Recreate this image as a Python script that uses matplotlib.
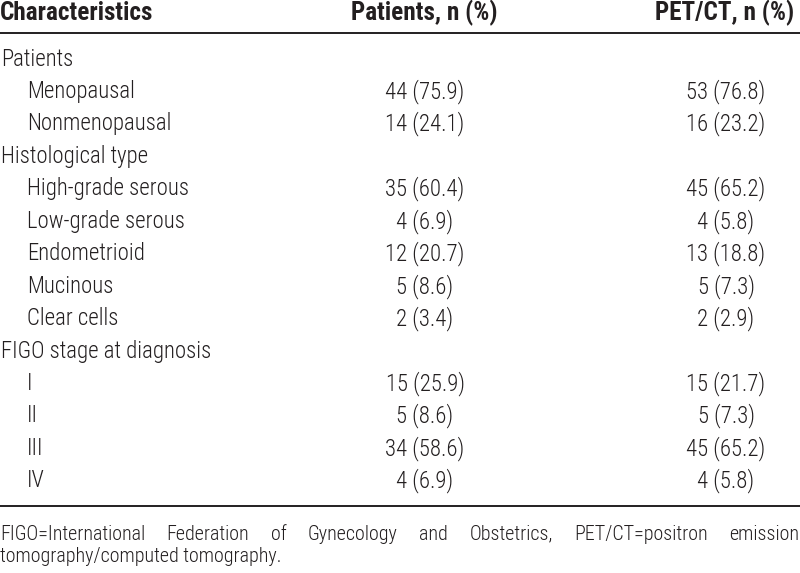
import matplotlib
matplotlib.use("Agg")
import matplotlib.pyplot as plt
from matplotlib import font_manager as fm

headers = ["Characteristics", "Patients, n (%)", "PET/CT, n (%)"]
row_labels = ["Patients", "Menopausal", "Nonmenopausal", "Histological type",
              "High-grade serous", "Low-grade serous", "Endometrioid", "Mucinous",
              "Clear cells", "FIGO stage at diagnosis", "I", "II", "III", "IV"]
indent = [False, True, True, False, True, True, True, True, True, False, True, True, True, True]
patients = ["", "44 (75.9)", "14 (24.1)", "", "35 (60.4)", "4 (6.9)", "12 (20.7)",
            "5 (8.6)", "2 (3.4)", "", "15 (25.9)", "5 (8.6)", "34 (58.6)", "4 (6.9)"]
petct = ["", "53 (76.8)", "16 (23.2)", "", "45 (65.2)", "4 (5.8)", "13 (18.8)",
         "5 (7.3)", "2 (2.9)", "", "15 (21.7)", "5 (7.3)", "45 (65.2)", "4 (5.8)"]
footnote_line1 = "FIGO=International Federation of Gynecology and Obstetrics, PET/CT=positron emission"
footnote_line2 = "tomography/computed tomography."

# choose a condensed sans family if available
fonts = fm.fontManager.ttflist
names = {f.name for f in fonts}
prefs = ["Liberation Sans Narrow", "Arial Narrow", "Nimbus Sans Narrow", "Roboto Condensed",
         "Archivo Narrow", "PT Sans Narrow", "IBM Plex Sans Condensed", "Fira Sans Condensed",
         "Encode Sans Condensed", "Open Sans Condensed", "Barlow Semi Condensed", "Asap Condensed",
         "Pragati Narrow", "DejaVu Sans"]
fam = next(p for p in prefs if p in names)
weights = {f.weight for f in fonts if f.name == fam and f.style == "normal"}
body_w = 300 if 300 in weights else "normal"

W, H = 800, 573
fig = plt.figure(figsize=(W / 100, H / 100), dpi=100)
ax = fig.add_axes([0, 0, 1, 1])
ax.set_xlim(0, W)
ax.set_ylim(H, 0)
ax.axis("off")
fig.canvas.draw()
r = fig.canvas.get_renderer()


def calib(sample, target_px, weight="normal"):
    t = ax.text(0, 0, sample, fontsize=10, family=fam, fontweight=weight)
    w = t.get_window_extent(r).width
    t.remove()
    return 10 * target_px / w


fs = calib("Histological type", 147, body_w)
fsb = calib("Characteristics", 153, "bold")
fsf = calib("Gynecology", 90, body_w)
col = "#231f20"

# header
hy = 13
ax.text(0, hy, headers[0], fontsize=fsb, fontweight="bold", family=fam, va="center", ha="left", color=col)
ax.text(424, hy, headers[1], fontsize=fsb, fontweight="bold", family=fam, va="center", ha="center", color=col)
ax.text(725, hy, headers[2], fontsize=fsb, fontweight="bold", family=fam, va="center", ha="center", color=col)
ax.plot([0, W], [32.5, 32.5], color=col, lw=1.4, solid_capstyle="butt")

y0, dy = 59, 32.45
for i, lab in enumerate(row_labels):
    y = y0 + i * dy
    ax.text(27 if indent[i] else 1, y, lab, fontsize=fs, fontweight=body_w, family=fam,
            va="center", ha="left", color=col)
    if patients[i]:
        ax.text(425, y, patients[i], fontsize=fs, fontweight=body_w, family=fam,
                va="center", ha="center", color=col)
    if petct[i]:
        ax.text(726, y, petct[i], fontsize=fs, fontweight=body_w, family=fam,
                va="center", ha="center", color=col)
ax.plot([0, W], [506, 506], color=col, lw=1.4, solid_capstyle="butt")

# footnote, justified first line (baseline-aligned words)
words = footnote_line1.split(" ")
ts = [ax.text(0, 539.5, w, fontsize=fsf, fontweight=body_w, family=fam, va="baseline", ha="left", color=col)
      for w in words]
widths = [t.get_window_extent(r).width for t in ts]
gap = (W - 1 - sum(widths)) / (len(words) - 1)
x = 0
for t, w in zip(ts, widths):
    t.set_x(x)
    x += w + gap
ax.text(0, 562, footnote_line2, fontsize=fsf, fontweight=body_w, family=fam,
        va="baseline", ha="left", color=col)

fig.savefig("out.png", dpi=100)
